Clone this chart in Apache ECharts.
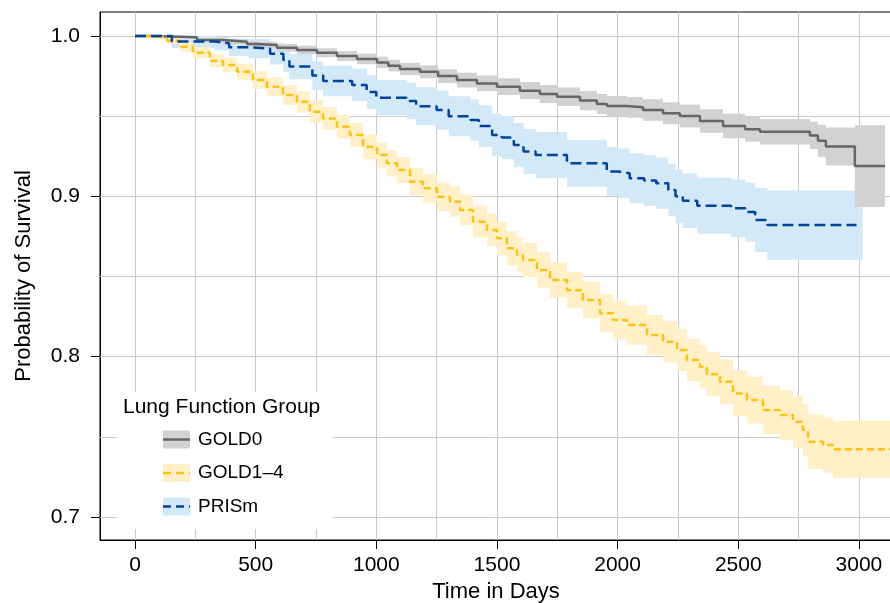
<!DOCTYPE html>
<html>
<head>
<meta charset="utf-8">
<script src="https://cdn.jsdelivr.net/npm/echarts@6/dist/echarts.min.js"></script>
<style>
  html, body { margin: 0; padding: 0; background: #fff; }
  #chart { width: 890px; height: 603px; }
</style>
</head>
<body>
<div id="chart"></div>
<script>
// Kaplan-Meier curves, values
const gold0Days = [0, 60, 157, 257, 365, 464, 506, 588, 671, 754, 837, 920, 1003, 1050, 1098, 1181, 1256, 1334, 1417, 1500, 1595, 1678, 1749, 1844, 1914, 1956, 2039, 2105, 2188, 2258, 2341, 2437, 2528, 2590, 2797, 2830, 2863, 2983, 3108];
const gold0Surv = [1.0, 0.9997, 0.9992, 0.9975, 0.9964, 0.9950, 0.9944, 0.9927, 0.9913, 0.9896, 0.9875, 0.9857, 0.9835, 0.9815, 0.9794, 0.9777, 0.9750, 0.9725, 0.9704, 0.9684, 0.9659, 0.9638, 0.9621, 0.9597, 0.9576, 0.9563, 0.9555, 0.9538, 0.9518, 0.9501, 0.9470, 0.9439, 0.9418, 0.9403, 0.9380, 0.9347, 0.9311, 0.9189, 0.9189];
const gold0Upper = [1.0, 1.0, 0.9999, 0.9985, 0.9979, 0.9969, 0.9964, 0.9950, 0.9939, 0.9924, 0.9906, 0.9890, 0.9870, 0.9852, 0.9833, 0.9818, 0.9793, 0.9771, 0.9753, 0.9736, 0.9713, 0.9694, 0.9679, 0.9657, 0.9638, 0.9626, 0.9620, 0.9605, 0.9587, 0.9572, 0.9543, 0.9515, 0.9496, 0.9483, 0.9465, 0.9447, 0.9429, 0.9444, 0.9444];
const gold0Lower = [1.0, 0.9994, 0.9985, 0.9965, 0.9949, 0.9931, 0.9924, 0.9904, 0.9887, 0.9868, 0.9844, 0.9824, 0.9800, 0.9778, 0.9755, 0.9736, 0.9707, 0.9679, 0.9655, 0.9632, 0.9605, 0.9582, 0.9563, 0.9537, 0.9514, 0.9500, 0.9490, 0.9471, 0.9449, 0.9430, 0.9397, 0.9363, 0.9340, 0.9323, 0.9295, 0.9247, 0.9193, 0.8934, 0.8934];
const gold0BandEnd = 3108;

const gold14Days = [0, 62, 133, 186, 240, 311, 365, 423, 489, 547, 613, 671, 725, 779, 837, 891, 945, 1003, 1044, 1086, 1140, 1193, 1251, 1305, 1347, 1401, 1459, 1500, 1541, 1583, 1608, 1666, 1720, 1790, 1856, 1927, 1981, 2039, 2122, 2188, 2246, 2287, 2341, 2370, 2424, 2478, 2536, 2602, 2673, 2727, 2768, 2789, 2851, 2892, 3150];
const gold14Surv = [1.0, 0.9992, 0.9971, 0.9933, 0.9896, 0.9846, 0.9819, 0.9777, 0.9725, 0.9684, 0.9632, 0.9590, 0.9528, 0.9486, 0.9434, 0.9382, 0.9309, 0.9258, 0.9206, 0.9164, 0.9091, 0.9050, 0.8997, 0.8966, 0.8915, 0.8842, 0.8790, 0.8738, 0.8676, 0.8634, 0.8603, 0.8540, 0.8478, 0.8415, 0.8353, 0.8270, 0.8228, 0.8197, 0.8135, 0.8093, 0.8041, 0.7979, 0.7937, 0.7891, 0.7843, 0.7771, 0.7729, 0.7667, 0.7636, 0.7594, 0.7542, 0.7469, 0.7449, 0.7422, 0.7422];
const gold14Upper = [1.0, 1.0, 0.9991, 0.9963, 0.9931, 0.9886, 0.9864, 0.9827, 0.9780, 0.9744, 0.9695, 0.9656, 0.9597, 0.9557, 0.9507, 0.9457, 0.9386, 0.9336, 0.9286, 0.9246, 0.9176, 0.9138, 0.9087, 0.9059, 0.9011, 0.8941, 0.8892, 0.8843, 0.8782, 0.8741, 0.8711, 0.8649, 0.8588, 0.8527, 0.8467, 0.8387, 0.8348, 0.8319, 0.8260, 0.8221, 0.8171, 0.8111, 0.8072, 0.8028, 0.7983, 0.7914, 0.7875, 0.7817, 0.7791, 0.7754, 0.7707, 0.7639, 0.7621, 0.7600, 0.7600];
const gold14Lower = [1.0, 0.9982, 0.9951, 0.9903, 0.9861, 0.9806, 0.9774, 0.9727, 0.9670, 0.9624, 0.9569, 0.9524, 0.9459, 0.9415, 0.9361, 0.9307, 0.9232, 0.9180, 0.9126, 0.9082, 0.9006, 0.8962, 0.8907, 0.8873, 0.8819, 0.8743, 0.8688, 0.8633, 0.8570, 0.8527, 0.8495, 0.8431, 0.8368, 0.8303, 0.8239, 0.8153, 0.8108, 0.8075, 0.8010, 0.7965, 0.7911, 0.7847, 0.7802, 0.7754, 0.7703, 0.7628, 0.7583, 0.7517, 0.7481, 0.7434, 0.7377, 0.7299, 0.7277, 0.7244, 0.7244];
const gold14BandEnd = 3150;

const prismDays = [0, 153, 330, 390, 470, 560, 615, 640, 735, 780, 900, 960, 1000, 1125, 1165, 1250, 1300, 1390, 1425, 1480, 1520, 1570, 1610, 1660, 1790, 1955, 2000, 2050, 2110, 2160, 2210, 2240, 2270, 2330, 2470, 2530, 2570, 2620, 2990];
const prismSurv = [1.0, 0.9965, 0.9955, 0.9930, 0.9922, 0.9890, 0.9850, 0.9810, 0.9753, 0.9720, 0.9695, 0.9650, 0.9615, 0.9595, 0.9562, 0.9538, 0.9500, 0.9476, 0.9438, 0.9382, 0.9367, 0.9320, 0.9280, 0.9258, 0.9206, 0.9155, 0.9144, 0.9113, 0.9098, 0.9082, 0.9040, 0.9000, 0.8972, 0.8941, 0.8925, 0.8902, 0.8853, 0.8821, 0.8821];
const prismUpper = [1.0, 1.0, 0.9995, 0.9985, 0.9982, 0.9958, 0.9925, 0.9890, 0.9843, 0.9815, 0.9795, 0.9755, 0.9725, 0.9710, 0.9680, 0.9660, 0.9625, 0.9604, 0.9568, 0.9515, 0.9502, 0.9458, 0.9420, 0.9401, 0.9353, 0.9307, 0.9298, 0.9269, 0.9256, 0.9242, 0.9205, 0.9168, 0.9142, 0.9116, 0.9105, 0.9087, 0.9053, 0.9037, 0.9037];
const prismLower = [1.0, 0.9925, 0.9910, 0.9875, 0.9862, 0.9822, 0.9775, 0.9730, 0.9663, 0.9625, 0.9595, 0.9545, 0.9505, 0.9480, 0.9444, 0.9416, 0.9375, 0.9348, 0.9308, 0.9249, 0.9232, 0.9182, 0.9140, 0.9115, 0.9059, 0.9003, 0.8990, 0.8957, 0.8940, 0.8922, 0.8875, 0.8832, 0.8802, 0.8766, 0.8745, 0.8717, 0.8653, 0.8605, 0.8605];
const prismBandEnd = 3015;

const groupNames = ['GOLD0', 'GOLD1–4', 'PRISm'];
const xTicks = [0, 500, 1000, 1500, 2000, 2500, 3000];
const yTicks = [0.7, 0.8, 0.9, 1.0];
const xGrid = [0, 250, 500, 750, 1000, 1250, 1500, 1750, 2000, 2250, 2500, 2750, 3000];
const yGrid = [0.7, 0.75, 0.8, 0.85, 0.9, 0.95, 1.0];

const FONT = '"Liberation Sans", Arial, Helvetica, sans-serif';

const styles = {
  'GOLD0': { line: '#666666', band: '#d2d2d2', dash: 'solid', legendDash: null },
  'GOLD1–4': { line: '#ffc20e', band: '#fff0c8', dash: [7, 4], legendDash: [8, 5] },
  'PRISm': { line: '#00449c', band: '#d3e9f8', dash: [11, 5], legendDash: [8, 5] }
};

function pairs(xs, ys) {
  return xs.map(function (x, i) { return [x, ys[i]]; });
}

// confidence band: one stepped polygon, corners placed with api.coord
function bandSeries(name, days, upper, lower, bandEnd, z) {
  return {
    name: name + ' band', type: 'custom', silent: true, z: z,
    data: pairs(days, upper),
    renderItem: function (params, api) {
      if (params.dataIndex !== 0) return null;
      var top = [], bottom = [];
      for (var i = 0; i < days.length; i++) {
        var x0 = days[i];
        var x1 = i + 1 < days.length ? days[i + 1] : bandEnd;
        top.push(api.coord([x0, upper[i]]), api.coord([x1, upper[i]]));
        bottom.push(api.coord([x0, lower[i]]), api.coord([x1, lower[i]]));
      }
      return {
        type: 'polygon',
        shape: { points: top.concat(bottom.reverse()) },
        style: { fill: styles[name].band }
      };
    }
  };
}

function curveSeries(name, days, surv) {
  return {
    name: name, type: 'line', step: 'end', data: pairs(days, surv),
    symbol: 'none', silent: true, z: 5,
    lineStyle: { color: styles[name].line, width: 2.5, type: styles[name].dash }
  };
}

var series = [];
// grid lines
series.push({
  name: 'grid', type: 'line', data: [[0, 1.0]], symbol: 'none', silent: true,
  lineStyle: { opacity: 0 },
  markLine: {
    silent: true, z: 1, symbol: ['none', 'none'], label: { show: false },
    lineStyle: { color: '#cacaca', width: 1, type: 'solid' },
    emphasis: { disabled: true },
    data: xGrid.map(function (v) { return { xAxis: v }; })
      .concat(yGrid.map(function (v) { return { yAxis: v }; }))
  }
});
series.push(bandSeries('PRISm', prismDays, prismUpper, prismLower, prismBandEnd, 2));
series.push(bandSeries('GOLD1–4', gold14Days, gold14Upper, gold14Lower, gold14BandEnd, 2));
series.push(bandSeries('GOLD0', gold0Days, gold0Upper, gold0Lower, gold0BandEnd, 3));
series.push(curveSeries('GOLD0', gold0Days, gold0Surv));
series.push(curveSeries('GOLD1–4', gold14Days, gold14Surv));
series.push(curveSeries('PRISm', prismDays, prismSurv));

// legend drawn as graphic keys (band + line)
var legendItems = [
  { type: 'rect', shape: { x: 117, y: 392, width: 216, height: 137 }, style: { fill: '#ffffff' }, z: 10 },
  { type: 'text', x: 123, y: 407, z: 11,
    style: { text: 'Lung Function Group', fontSize: 21, fontFamily: FONT, fill: '#000', verticalAlign: 'middle' } }
];
groupNames.forEach(function (name, i) {
  var cy = 439.5 + i * 33.5;
  var st = styles[name];
  legendItems.push({ type: 'rect', shape: { x: 163, y: cy - 9, width: 27, height: 18 }, style: { fill: st.band }, z: 11 });
  legendItems.push({ type: 'line', shape: { x1: 163, y1: cy, x2: 190, y2: cy }, z: 12,
    style: { stroke: st.line, lineWidth: 2.5, lineDash: st.legendDash || null } });
  legendItems.push({ type: 'text', x: 198, y: cy, z: 12,
    style: { text: name, fontSize: 19, fontFamily: FONT, fill: '#000', verticalAlign: 'middle' } });
});

var chart = echarts.init(document.getElementById('chart'), null, { renderer: 'canvas' });
chart.setOption({
  animation: false,
  backgroundColor: '#ffffff',
  grid: {
    left: 100, top: 12, width: 792, height: 528,
    containLabel: false, outerBoundsMode: 'none',
    show: true, borderColor: '#000', borderWidth: 1, backgroundColor: '#ffffff'
  },
  xAxis: {
    type: 'value', min: -145, max: 3137,
    name: 'Time in Days', nameLocation: 'middle', nameGap: 41,
    nameTextStyle: { fontSize: 22, color: '#000', fontFamily: FONT },
    axisLine: { show: true, onZero: false, lineStyle: { color: '#000', width: 1 } },
    axisTick: { show: true, customValues: xTicks, length: 9, lineStyle: { color: '#000' } },
    axisLabel: {
      customValues: xTicks, fontSize: 21, color: '#000', margin: 15, fontFamily: FONT,
      formatter: function (v) { return String(v); }
    },
    splitLine: { show: false }
  },
  yAxis: {
    type: 'value', min: 0.68565, max: 1.01497,
    name: 'Probability of Survival', nameLocation: 'middle', nameGap: 65, nameRotate: 90,
    nameTextStyle: { fontSize: 22, color: '#000', fontFamily: FONT },
    axisLine: { show: true, onZero: false, lineStyle: { color: '#000', width: 1 } },
    axisTick: { show: true, customValues: yTicks, length: 9, lineStyle: { color: '#000' } },
    axisLabel: {
      customValues: yTicks, fontSize: 21, color: '#000', margin: 20, fontFamily: FONT,
      formatter: function (v) { return v.toFixed(1); }
    },
    splitLine: { show: false }
  },
  graphic: legendItems,
  series: series
});
</script>
</body>
</html>
